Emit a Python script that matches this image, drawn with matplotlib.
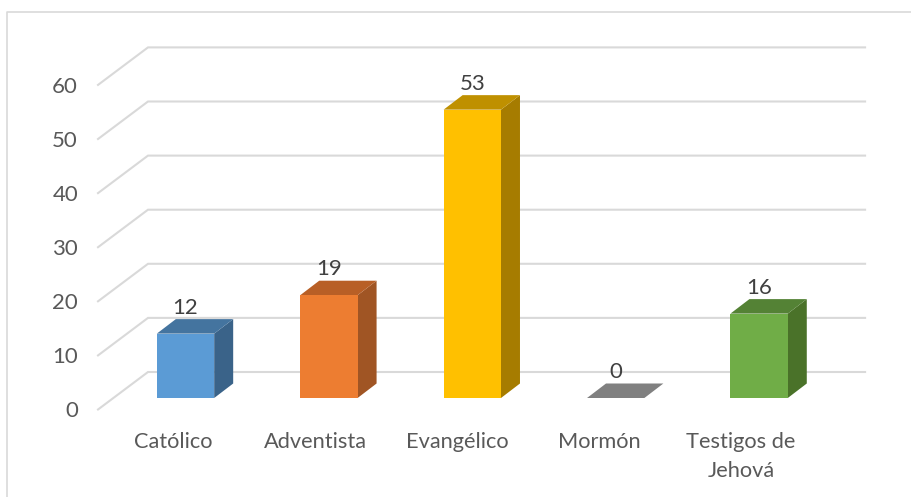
import matplotlib
matplotlib.use("Agg")
import matplotlib.pyplot as plt
from matplotlib.patches import Polygon

plt.rcParams['font.family'] = ['Lato', 'DejaVu Sans']

categories = ["Católico", "Adventista", "Evangélico", "Mormón", "Testigos de\nJehová"]
values = [11.9, 19.0, 53.3, 0, 15.6]
ticks = [0, 10, 20, 30, 40, 50, 60]
front_colors = ["#5B9BD5", "#ED7D31", "#FFC000", "#808080", "#70AD47"]
top_colors = ["#44749F", "#B85F26", "#BF9000", "#808080", "#548235"]
side_colors = ["#3A6389", "#A05524", "#A67C00", "#6E6E6E", "#4A7229"]

W, H = 912, 497
# one category = 143.4 px, one unit = 5.41 px, bar baseline at y=398
XS = 143.4
YS = 5.41
bar_w = 0.40
depth_x = 19 / XS
depth_y = 14.5 / YS

fig = plt.figure(figsize=(W / 100, H / 100), dpi=100)
ax = fig.add_axes([0, 0, 1, 1])
ax.set_xlim(-185.5 / XS, (W - 185.5) / XS)
ax.set_ylim((398 - H) / YS, 398 / YS)
ax.axis('off')

# chart frame
ax.plot([7 / W, 7 / W, 1], [0, 1 - 11.5 / H, 1 - 11.5 / H], transform=ax.transAxes,
        color="#D9D9D9", lw=1.2, clip_on=False)

# gridlines: wall side + back wall
wall_front_x = -0.61
wall_back_x = -0.2615
wall_right_x = 4.739
floor_front = -11.5 / YS
floor_back = 26 / YS
for t in ticks:
    ax.plot([wall_front_x, wall_back_x, wall_right_x],
            [t + floor_front, t + floor_back, t + floor_back],
            color="#D9D9D9", lw=1.5, solid_joinstyle='miter', zorder=1)
    ax.text(wall_front_x - 20 / XS, t + floor_front - 0.3, str(t), ha='right', va='center',
            fontsize=16, color="#595959")

# bars
for i, v in enumerate(values):
    x0 = i - bar_w / 2
    x1 = i + bar_w / 2
    front = [(x0, 0), (x1, 0), (x1, v), (x0, v)]
    top = [(x0, v), (x1, v), (x1 + depth_x, v + depth_y), (x0 + depth_x, v + depth_y)]
    side = [(x1, 0), (x1 + depth_x, depth_y), (x1 + depth_x, v + depth_y), (x1, v)]
    ax.add_patch(Polygon(side, facecolor=side_colors[i], edgecolor='none', zorder=3))
    ax.add_patch(Polygon(top, facecolor=top_colors[i], edgecolor='none', zorder=3))
    ax.add_patch(Polygon(front, facecolor=front_colors[i], edgecolor='none', zorder=4))
    ax.text(i, v + 4.8, "%.0f" % v, ha='center', va='center',
            fontsize=16, color="#404040", zorder=5)

# category labels, first line centred at y=441
for i, c in enumerate(categories):
    ax.text(i * 0.99 - 0.085, -33.5 / YS, c, ha='center', va='top', fontsize=15.7, color="#595959",
            linespacing=1.6)

fig.savefig("out.png", dpi=100)
